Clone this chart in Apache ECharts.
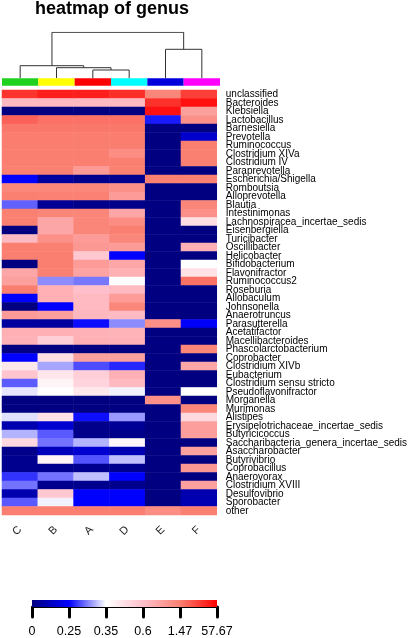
<!DOCTYPE html>
<html>
<head>
<meta charset="utf-8">
<title>heatmap of genus</title>
<script src="https://cdn.jsdelivr.net/npm/echarts/dist/echarts.min.js"></script>
<style>
  body { margin: 0; background: #fff; }
  #heatmapGenus { width: 410px; height: 638px; }
</style>
</head>
<body>
<div id="heatmapGenus"></div>
<script>
// samples in clustered column order
const samples = ['C', 'B', 'A', 'D', 'E', 'F'];
const groupColors = ['#1fd21f', '#ffff00', '#ff0000', '#00ffff', '#0000dd', '#ff00ff'];

const genera = [
  'unclassified', 'Bacteroides', 'Klebsiella', 'Lactobacillus', 'Barnesiella', 'Prevotella',
  'Ruminococcus', 'Clostridium XIVa', 'Clostridium IV', 'Paraprevotella', 'Escherichia/Shigella',
  'Romboutsia', 'Alloprevotella', 'Blautia', 'Intestinimonas', 'Lachnospiracea_incertae_sedis',
  'Eisenbergiella', 'Turicibacter', 'Oscillibacter', 'Helicobacter', 'Bifidobacterium',
  'Flavonifractor', 'Ruminococcus2', 'Roseburia', 'Allobaculum', 'Johnsonella', 'Anaerotruncus',
  'Parasutterella', 'Acetatifactor', 'Macellibacteroides', 'Phascolarctobacterium', 'Coprobacter',
  'Clostridium XIVb', 'Eubacterium', 'Clostridium sensu stricto', 'Pseudoflavonifractor',
  'Morganella', 'Murimonas', 'Alistipes', 'Erysipelotrichaceae_incertae_sedis', 'Butyricicoccus',
  'Saccharibacteria_genera_incertae_sedis', 'Asaccharobacter', 'Butyrivibrio', 'Coprobacillus',
  'Anaerovorax', 'Clostridium XVIII', 'Desulfovibrio', 'Sporobacter', 'other'
];

// relative abundance (%) per sample, same order as genera
const valC = [35, 0.7, 0, 15, 5, 3, 2.5, 2, 1.8, 1.6, 0.25, 1.38, 1.5, 0.288, 1.5, 1.47, 0, 0.7, 2, 2,
  0, 0.95, 1.04, 2.5, 0.25, 0, 1.1, 0.06, 0.82, 0.8, 0, 0.25, 0.44, 0.58, 0.286, 0.34, 0, 0, 0.338, 0.09,
  0.32, 0.5, 0.02, 0.03, 0.03, 0.27, 0.295, 0.09, 0.285, 2];
const valB = [44, 0.7, 0, 8, 5, 3, 2.5, 2, 1.8, 1.6, 0.06, 1.38, 1.45, 0.04, 1.4, 0.95, 0.95, 1.25, 1.6, 1.8,
  2, 1.6, 0.305, 0.82, 0.82, 0.25, 1.05, 0.06, 0.82, 0.54, 0, 0.48, 0.315, 0.45, 0.39, 0.35, 0, 0, 0.47, 0.16,
  0.285, 0.295, 0.12, 0.39, 0.03, 0.295, 0.03, 0.57, 0.345, 1.8];
const valA = [44, 0.7, 0, 8, 5, 3, 2.5, 2, 1.8, 1.12, 0.03, 1.38, 1.45, 0.02, 1.4, 1.4, 1.4, 1.1, 1.15, 0.57,
  1.1, 1.0, 0.297, 0.6, 0.7, 0.7, 0.72, 0.255, 0.8, 0.82, 0, 1.04, 0.28, 0.54, 0.52, 0.44, 0, 0, 0.255, 0.02,
  0.02, 0.32, 0.16, 0.283, 0.03, 0.325, 0.03, 0.25, 0.25, 1.8];
const valD = [38, 0.7, 0, 8, 5, 3, 2.5, 1.3, 1.8, 1.5, 0.03, 1.25, 1.1, 0.02, 0.95, 1.3, 1.47, 1.38, 1.1, 0.25,
  0.95, 0.82, 0.36, 0.7, 1.1, 1.38, 0.68, 0.305, 0.78, 0.8, 0, 1.04, 0.265, 0.82, 0.7, 0.345, 0, 0, 0.31, 0.04,
  0.02, 0.38, 0.1, 0.325, 0.03, 0.25, 0.03, 0.25, 0.25, 1.8];
const valE = [1.4, 36, 50, 0.26, 0, 0, 0, 0, 0, 0, 1.5, 0, 0, 0, 0, 0, 0, 0, 0, 0,
  0, 0, 0, 0, 0, 0, 0, 1.25, 0, 0, 0, 0, 0, 0, 0, 0, 1.25, 0, 0, 0,
  0, 0, 0, 0, 0, 0, 0, 0, 0, 1.3];
const valF = [30, 50, 1.04, 1.25, 0, 0.15, 2, 1.6, 1.6, 0, 1.5, 0, 0, 1.4, 1.25, 0.48, 0, 0, 0.82, 0,
  0.35, 0.47, 8, 0, 0, 0, 0, 0.24, 0, 0, 1.38, 0, 0.95, 0, 0, 0.35, 0, 1.38, 0.5, 1.06,
  1.06, 0, 1.04, 0, 1.15, 0, 1.04, 0.09, 0.1, 1.6];
const sampleValues = [valC, valB, valA, valD, valE, valF];

// colour key breaks (tick labels of the key)
const breaks = [0, 0.25, 0.35, 0.6, 1.47, 57.67];

// column clustering, hclust style: negative = leaf, positive = earlier merge; last = height
const merges = [[-3, -4, 8.3], [-2, 1, 10.6], [-1, 2, 12.6], [-5, -6, 29], [3, 4, 46]];

const palette = ['#000080', '#0000ff', '#ffffff', '#ffc0cb', '#fa8072', '#ff0000'];
const font = 'Liberation Sans, Arial, sans-serif';

// value -> position on the colour key (one unit between two breaks)
function toPos(v) {
  for (let i = 0; i < breaks.length - 1; i++) {
    if (v <= breaks[i + 1]) return i + (v - breaks[i]) / (breaks[i + 1] - breaks[i]);
  }
  return breaks.length - 1;
}

const cells = [];
sampleValues.forEach((vals, j) => {
  vals.forEach((v, i) => cells.push([j, i, toPos(v)]));
});

// dendrogram segments
const nodes = [];
const dendro = [];
function nodePos(n) {
  if (n < 0) return { x: -n - 1 + 0.5, h: 0 };
  return nodes[n - 1];
}
merges.forEach(m => {
  const l = nodePos(m[0]);
  const r = nodePos(m[1]);
  dendro.push({ coords: [[l.x, l.h], [l.x, m[2]], [r.x, m[2]], [r.x, r.h]] });
  nodes.push({ x: (l.x + r.x) / 2, h: m[2] });
});

const chart = echarts.init(document.getElementById('heatmapGenus'));

const option = {
  animation: false,
  textStyle: { fontFamily: font },
  title: {
    text: 'heatmap of genus',
    left: 35,
    top: 0,
    padding: 0,
    textStyle: { fontSize: 18, fontWeight: 'bold', color: '#000', fontFamily: font }
  },
  grid: [
    { left: 2, top: 32.3, width: 218, height: 46 },
    { left: 2, top: 78.3, width: 218, height: 7.4 },
    { left: 2, top: 90, width: 218, height: 425 },
    { left: 32, top: 600, width: 185, height: 9 }
  ],
  xAxis: [
    { gridIndex: 0, type: 'value', min: 0, max: samples.length, show: false },
    { gridIndex: 1, type: 'category', data: samples, show: false },
    {
      gridIndex: 2, type: 'category', data: samples, position: 'bottom',
      axisLine: { show: false }, axisTick: { show: false }, splitLine: { show: false },
      axisLabel: { rotate: 45, margin: 13, fontSize: 11, color: '#222', fontFamily: font }
    },
    {
      gridIndex: 3, type: 'value', min: 0, max: breaks.length - 1, interval: 1,
      splitLine: { show: false },
      axisLine: { show: true, onZero: false, lineStyle: { color: '#000', width: 1 } },
      axisTick: { show: true, length: 10, lineStyle: { color: '#000', width: 3, cap: 'round' } },
      axisLabel: {
        margin: 18, fontSize: 12.5, color: '#000', fontFamily: font,
        formatter: v => String(breaks[v])
      }
    }
  ],
  yAxis: [
    { gridIndex: 0, type: 'value', min: 0, max: 46, show: false },
    { gridIndex: 1, type: 'value', min: 0, max: 1, show: false },
    {
      gridIndex: 2, type: 'category', data: genera, inverse: true, position: 'right',
      axisLine: { show: false }, axisTick: { show: false },
      axisLabel: { interval: 0, margin: 9, fontSize: 10, color: '#000', fontFamily: font }
    },
    { gridIndex: 3, type: 'category', data: ['key'], show: false }
  ],
  visualMap: {
    show: false,
    seriesIndex: 2,
    dimension: 2,
    min: 0,
    max: breaks.length - 1,
    inRange: { color: palette }
  },
  series: [
    {
      type: 'lines',
      coordinateSystem: 'cartesian2d',
      xAxisIndex: 0,
      yAxisIndex: 0,
      polyline: true,
      silent: true,
      lineStyle: { color: '#333', width: 1, opacity: 1 },
      data: dendro
    },
    {
      type: 'bar',
      xAxisIndex: 1,
      yAxisIndex: 1,
      barWidth: '100%',
      silent: true,
      data: samples.map((s, i) => ({ value: 1, itemStyle: { color: groupColors[i] } }))
    },
    {
      type: 'heatmap',
      xAxisIndex: 2,
      yAxisIndex: 2,
      data: cells,
      itemStyle: { borderWidth: 0 },
      emphasis: { disabled: true }
    },
    {
      type: 'bar',
      xAxisIndex: 3,
      yAxisIndex: 3,
      barWidth: '100%',
      silent: true,
      data: [breaks.length - 1],
      itemStyle: {
        color: {
          type: 'linear', x: 0, y: 0, x2: 1, y2: 0,
          colorStops: palette.map((c, i) => ({ offset: i / (palette.length - 1), color: c }))
        }
      }
    }
  ]
};

chart.setOption(option);
</script>
</body>
</html>
